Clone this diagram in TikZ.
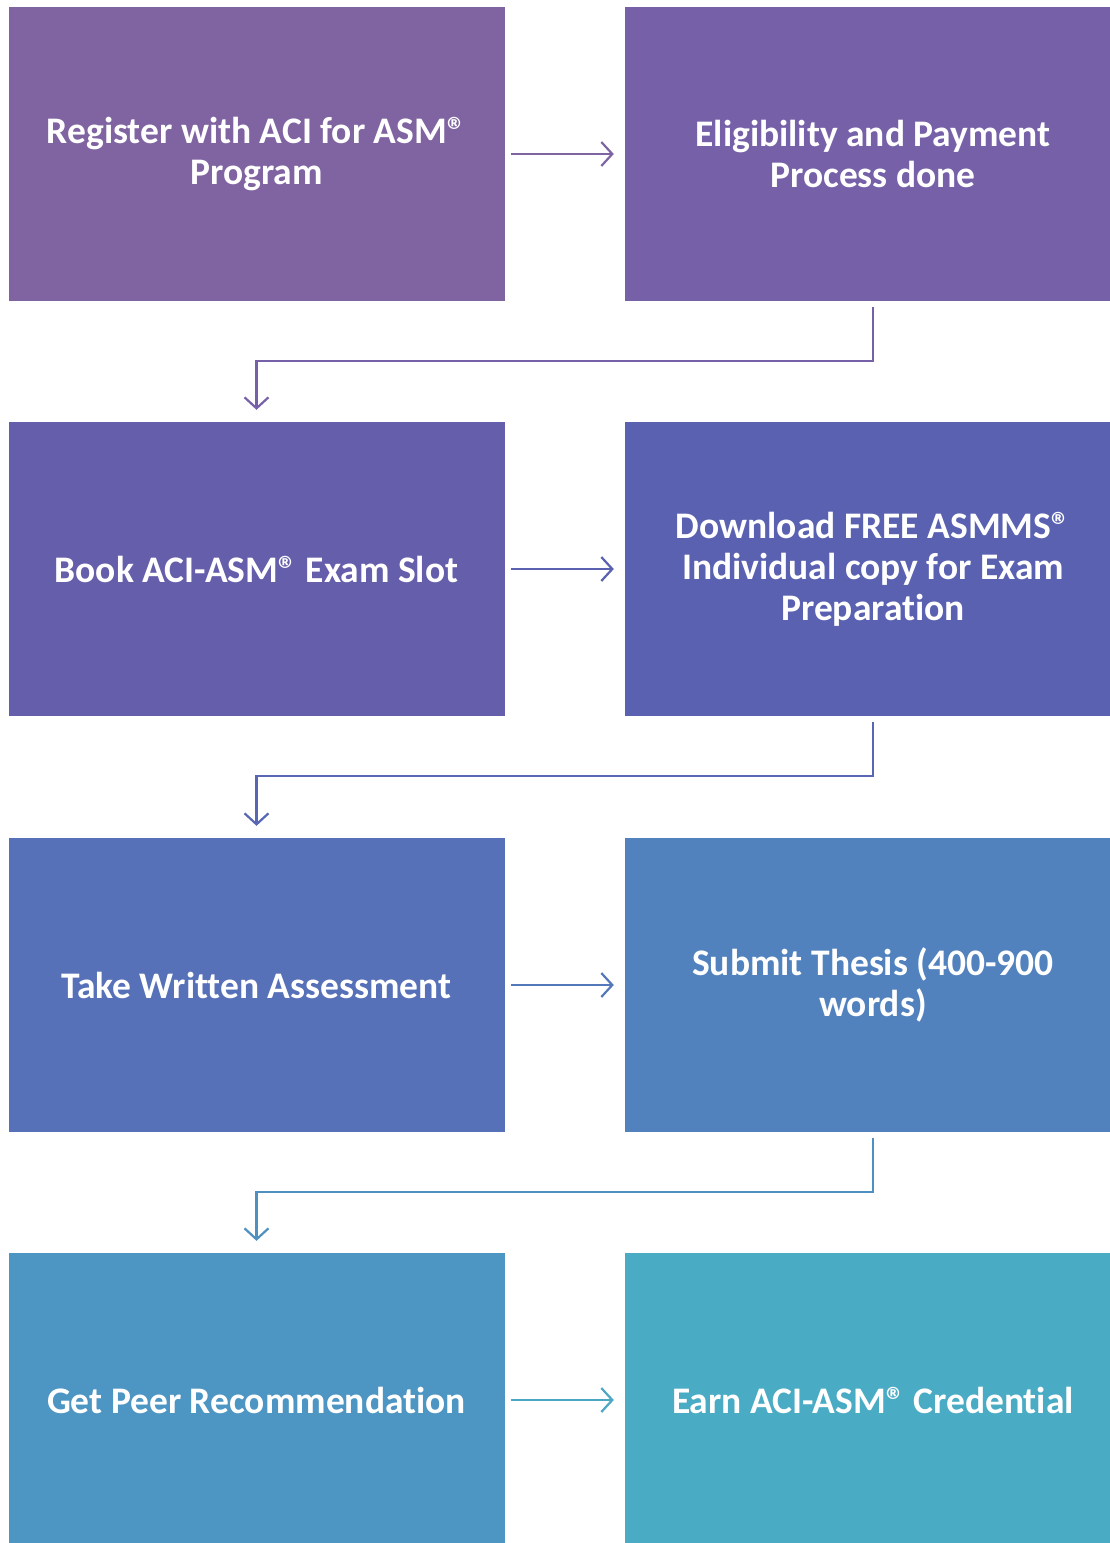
\documentclass[tikz,border=0pt]{standalone}
\usepackage{fontspec}
\setmainfont{Carlito}[Ligatures={NoCommon,NoContextual}]
\usetikzlibrary{arrows.meta}

\definecolor{boxA}{HTML}{8064A2}
\definecolor{boxB}{HTML}{7661A8}
\definecolor{boxC}{HTML}{655EAB}
\definecolor{boxD}{HTML}{5961B0}
\definecolor{boxE}{HTML}{5771B9}
\definecolor{boxF}{HTML}{5282BE}
\definecolor{boxG}{HTML}{4D95C2}
\definecolor{boxH}{HTML}{4AABC5}

\newcommand{\regmark}{®}

\tikzset{
    stepbox/.style={rectangle, minimum width=496pt, minimum height=294pt, inner sep=0pt,
        text=white, align=center, font=\fontsize{37.5}{41}\selectfont\bfseries},
    flow/.style={line width=2.2pt, -{Straight Barb[length=11pt, width=24pt, line width=2.2pt]}}
}

\begin{document}
\begin{tikzpicture}[x=1pt, y=-1pt]
    \useasboundingbox (0,0) rectangle (1110,1543);
    \clip (0,0) rectangle (1110,1543);

    % Define the positions of the boxes
    \coordinate (regPos) at (256.5, 154);
    \coordinate (payPos) at (873, 154);
    \coordinate (bookPos) at (256.5, 569);
    \coordinate (downPos) at (873, 569);
    \coordinate (takePos) at (256.5, 985);
    \coordinate (thesisPos) at (873, 985);
    \coordinate (peerPos) at (256.5, 1400);
    \coordinate (earnPos) at (873, 1400);

    % Draw the boxes
    \node[stepbox, fill=boxA] (reg) at (regPos) {Register with ACI for ASM\regmark\\Program};
    \node[stepbox, fill=boxB] (pay) at (payPos) {Eligibility and Payment\\Process done};
    \node[stepbox, fill=boxC] (book) at (bookPos) {Book ACI-ASM\regmark{} Exam Slot};
    \node[stepbox, fill=boxD] (down) at (downPos) {Download FREE ASMMS\regmark\\Individual copy for Exam\\Preparation};
    \node[stepbox, fill=boxE] (take) at (takePos) {Take Written Assessment};
    \node[stepbox, fill=boxF] (thesis) at (thesisPos) {Submit Thesis (400-900\\words)};
    \node[stepbox, fill=boxG] (peer) at (peerPos) {Get Peer Recommendation};
    \node[stepbox, fill=boxH] (earn) at (earnPos) {Earn ACI-ASM\regmark{} Credential};

    % Draw the arrows
    \draw[flow, color=boxA!90!boxB] ([xshift=6pt]reg.east) -- ([xshift=-11pt]pay.west);
    \draw[flow, color=boxB] ([yshift=-6pt]pay.south) -- ++(0,54) -| ([yshift=12pt]book.north);
    \draw[flow, color=boxD] ([xshift=6pt]book.east) -- ([xshift=-11pt]down.west);
    \draw[flow, color=boxD!70!boxE] ([yshift=-6pt]down.south) -- ++(0,54) -| ([yshift=12pt]take.north);
    \draw[flow, color=boxE!60!boxF] ([xshift=6pt]take.east) -- ([xshift=-11pt]thesis.west);
    \draw[flow, color=boxG!80!boxF] ([yshift=-6pt]thesis.south) -- ++(0,54) -| ([yshift=12pt]peer.north);
    \draw[flow, color=boxH!80!boxG] ([xshift=6pt]peer.east) -- ([xshift=-11pt]earn.west);
\end{tikzpicture}
\end{document}
